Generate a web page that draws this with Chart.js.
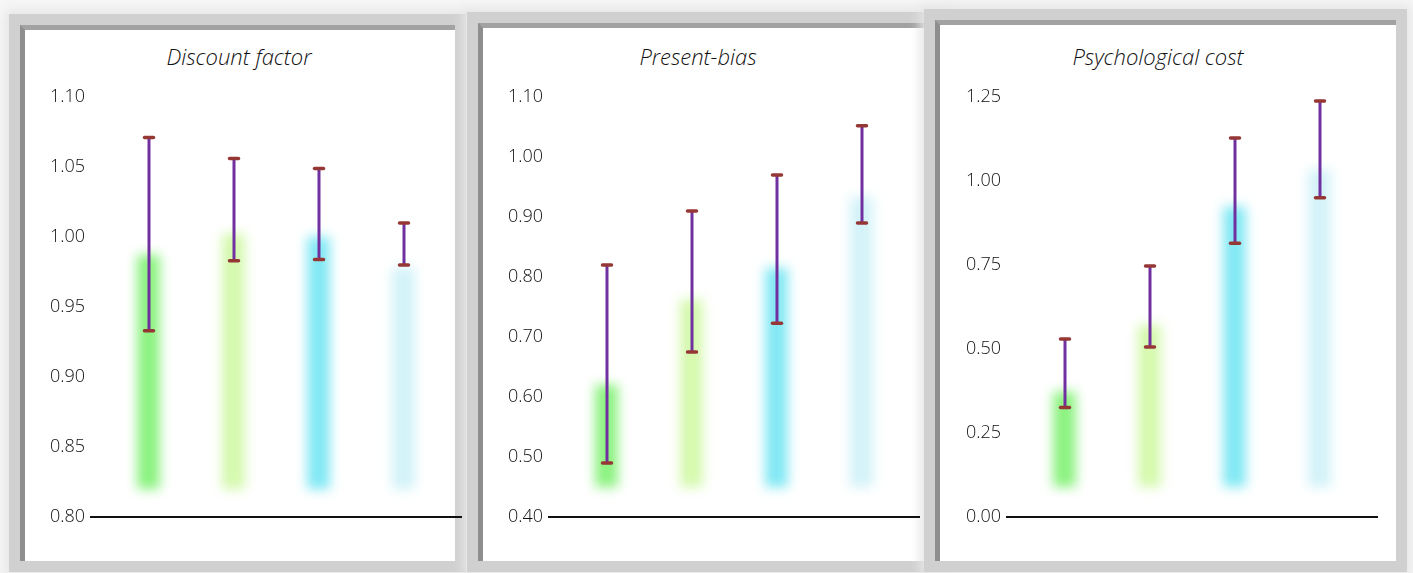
<!DOCTYPE html>
<html>
<head>
<meta charset="utf-8">
<script src="https://cdn.jsdelivr.net/npm/chart.js@4.4.0/dist/chart.umd.min.js"></script>
<style>
    html, body { margin: 0; padding: 0; }
    body {
        width: 1413px;
        height: 573px;
        position: relative;
        overflow: hidden;
        background: #f6f6f6;
        font-family: 'Open Sans', sans-serif;
    }
    .panel {
        position: absolute;
        background: #fff;
        border-left: 5px solid #8e8e8e;
        border-top: 5px solid #a2a2a2;
        box-shadow: 0 0 0 11px #d0d0d0, 0 0 10px 15px #e6e6e6;
    }
    .title {
        position: absolute;
        top: 41px;
        font-size: 22px;
        font-weight: 300;
        font-style: italic;
        color: #111;
        white-space: nowrap;
        transform: translateX(-50%);
    }
    canvas { position: absolute; top: 30px; }
</style>
</head>
<body>
<div class="panel" style="left:20px; top:25px; width:430px; height:531px;"></div>
<div class="panel" style="left:478px; top:23px; width:452px; height:533px;"></div>
<div class="panel" style="left:935px; top:20px; width:456px; height:536px;"></div>

<div class="title" id="t0" style="left:239px;"></div>
<div class="title" id="t1" style="left:698px;"></div>
<div class="title" id="t2" style="left:1158px;"></div>

<canvas id="c0" width="445" height="531" style="left:25px;"></canvas>
<canvas id="c1" width="445" height="531" style="left:483px;"></canvas>
<canvas id="c2" width="445" height="531" style="left:941px;"></canvas>

<script>
(function() {
    'use strict';

    // Panel titles and axis settings
    const panelTitles = ['Discount factor', 'Present-bias', 'Psychological cost'];
    const axisMin = [0.80, 0.40, 0.00];
    const axisMax = [1.10, 1.10, 1.25];
    const axisStep = [0.05, 0.10, 0.25];

    // Four groups per panel (no visible labels)
    const categories = ['A', 'B', 'C', 'D'];
    const barColors = ['#8af27e', '#d4f9ac', '#80e8f4', '#d2f2f8'];

    // Where the (floating) bars start in each panel
    const barBases = [0.82, 0.45, 0.09];

    // Discount factor
    const discountBars = [0.987, 1.002, 1.000, 0.978];
    const discountLow  = [0.933, 0.983, 0.984, 0.980];
    const discountHigh = [1.071, 1.056, 1.049, 1.010];

    // Present-bias
    const presentBars = [0.620, 0.762, 0.815, 0.933];
    const presentLow  = [0.490, 0.675, 0.723, 0.890];
    const presentHigh = [0.820, 0.910, 0.970, 1.052];

    // Psychological cost
    const costBars = [0.372, 0.571, 0.923, 1.033];
    const costLow  = [0.326, 0.506, 0.815, 0.950];
    const costHigh = [0.530, 0.747, 1.128, 1.238];

    const barValues = [discountBars, presentBars, costBars];
    const errLow = [discountLow, presentLow, costLow];
    const errHigh = [discountHigh, presentHigh, costHigh];

    // Soft glow bars + error bars + baseline
    const glowPlugin = {
        id: 'glow',
        beforeDatasetsDraw(chart) {
            chart.ctx.save();
            chart.ctx.filter = 'blur(6px)';
        },
        afterDatasetsDraw(chart) {
            chart.ctx.restore();
            const ctx = chart.ctx;
            const idx = chart.options.panelIndex;
            const y = chart.scales.y;
            const area = chart.chartArea;

            // baseline
            ctx.save();
            ctx.strokeStyle = '#111';
            ctx.lineWidth = 2;
            ctx.beginPath();
            ctx.moveTo(area.left - 16, area.bottom);
            ctx.lineTo(area.right + 16, area.bottom);
            ctx.stroke();

            // error bars
            const bars = chart.getDatasetMeta(0).data;
            bars.forEach((bar, i) => {
                const x = Math.round(bar.x);
                const yLo = y.getPixelForValue(errLow[idx][i]);
                const yHi = y.getPixelForValue(errHigh[idx][i]);
                ctx.strokeStyle = '#7030a0';
                ctx.lineWidth = 3;
                ctx.lineCap = 'butt';
                ctx.beginPath();
                ctx.moveTo(x, yLo);
                ctx.lineTo(x, yHi);
                ctx.stroke();

                ctx.strokeStyle = '#953735';
                ctx.lineWidth = 3.5;
                ctx.lineCap = 'round';
                [yLo, yHi].forEach(yy => {
                    ctx.beginPath();
                    ctx.moveTo(x - 4.5, yy);
                    ctx.lineTo(x + 4.5, yy);
                    ctx.stroke();
                });
            });
            ctx.restore();
        }
    };

    function makePanel(idx) {
        document.getElementById('t' + idx).textContent = panelTitles[idx];

        const ctx = document.getElementById('c' + idx).getContext('2d');
        new Chart(ctx, {
            type: 'bar',
            data: {
                labels: categories,
                datasets: [{
                    data: barValues[idx].map(v => [barBases[idx], v]),
                    backgroundColor: barColors,
                    borderWidth: 0,
                    borderSkipped: false,
                    barThickness: 22
                }]
            },
            options: {
                panelIndex: idx,
                responsive: false,
                animation: false,
                layout: {
                    padding: { top: 67, bottom: 44, left: 0, right: 24 }
                },
                plugins: {
                    legend: { display: false },
                    tooltip: { enabled: false }
                },
                scales: {
                    x: { display: false },
                    y: {
                        min: axisMin[idx],
                        max: axisMax[idx],
                        afterFit: s => { s.width = 81; },
                        grid: { display: false },
                        border: { display: false },
                        ticks: {
                            stepSize: axisStep[idx],
                            padding: 13,
                            color: '#111',
                            font: { family: 'Open Sans', size: 18, weight: '300' },
                            callback: v => Number(v).toFixed(2)
                        }
                    }
                }
            },
            plugins: [glowPlugin]
        });
    }

    [0, 1, 2].forEach(makePanel);
})();
</script>
</body>
</html>
